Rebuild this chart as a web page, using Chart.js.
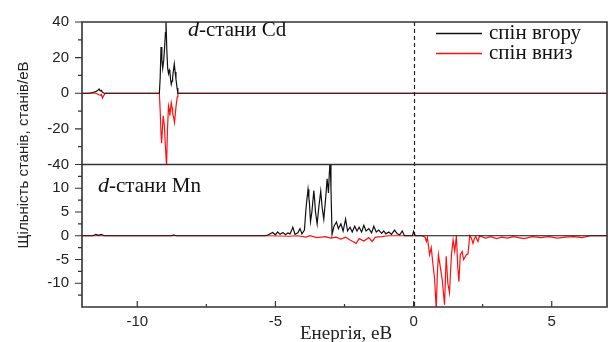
<!DOCTYPE html>
<html><head><meta charset="utf-8">
<script src="https://cdn.jsdelivr.net/npm/chart.js@4.4.1/dist/chart.umd.min.js"></script>
<style>html,body{margin:0;padding:0;background:#fff;}#wrap{width:609px;height:342px;position:relative;}</style>
</head><body><div id="wrap"><canvas id="c" width="609" height="342"></canvas></div>
<script>
// ---- data: [energy (eV), DOS (states/eV)] ----
const CD_UP = [[-12,0],[-11.75,0],[-11.62,0.4],[-11.5,0.9],[-11.44,1.5],[-11.38,2.4],[-11.34,1.3],[-11.3,1.6],[-11.26,0.5],[-11.2,0],
[-9.2,0],[-9.17,9],[-9.14,26],[-9.11,19],[-9.08,14],[-9.04,19],[-9.01,26],[-8.98,34],[-8.96,41],[-8.93,24],[-8.9,14],[-8.87,11],[-8.84,13],[-8.82,12],[-8.79,7],[-8.77,5],[-8.74,7],[-8.72,9],[-8.69,13],[-8.66,16.5],[-8.63,12],[-8.6,8],[-8.56,3],[-8.53,0],[7,0]];
const CD_DOWN = [[-12,0],[-11.5,0],[-11.42,-0.6],[-11.34,-1.2],[-11.3,-0.6],[-11.26,-2.6],[-11.22,-1.5],[-11.16,0],
[-9.2,0],[-9.17,-10],[-9.14,-23],[-9.12,-28],[-9.09,-20],[-9.06,-12.6],[-9.02,-18],[-8.98,-30],[-8.94,-41],[-8.91,-22],[-8.87,-7],[-8.84,-9],[-8.82,-12.6],[-8.79,-8],[-8.77,-5.3],[-8.74,-8],[-8.72,-11],[-8.68,-14],[-8.65,-16.5],[-8.62,-11],[-8.58,-5],[-8.55,-2],[-8.53,0],[7,0]];
const MN_UP = [[-12,0],[-11.6,0],[-11.5,0.3],[-11.4,0.1],[-11.3,0.3],[-11.2,0],[-8.75,0],[-8.68,0.2],[-8.6,0],
[-5.34,0],[-5.22,0.3],[-5.1,0.7],[-5.0,0.2],[-4.92,0.8],[-4.83,0.3],[-4.73,0.7],[-4.64,0.2],[-4.55,0.6],[-4.47,0.4],[-4.41,1.2],[-4.37,1.8],[-4.29,0.3],[-4.19,0.6],[-4.11,1.5],[-4.04,0.4],[-3.95,1.2],[-3.89,6],[-3.82,9.8],[-3.79,8],[-3.77,7],[-3.73,3],[-3.68,5],[-3.61,9.5],[-3.58,7.5],[-3.55,5],[-3.49,2.5],[-3.43,6],[-3.36,9.4],[-3.31,6],[-3.25,3.5],[-3.18,8],[-3.13,12],[-3.08,9],[-3.05,13],[-3.02,16],[-2.99,10],[-2.95,0.3],[-2.88,2],[-2.79,2.9],[-2.72,1.5],[-2.63,2.5],[-2.55,1],[-2.46,3.5],[-2.39,1],[-2.3,1.8],[-2.22,0.8],[-2.13,2],[-2.05,1],[-1.97,1.8],[-1.88,0.8],[-1.8,2.2],[-1.72,1],[-1.62,1.5],[-1.52,0.6],[-1.44,2],[-1.35,0.8],[-1.26,1.2],[-1.16,0.5],[-1.08,1],[-1.0,0.4],[-0.9,0.8],[-0.8,0.3],[-0.69,1.2],[-0.59,0.4],[-0.5,0.2],[-0.41,1],[-0.33,0],[-0.04,0],[0.0,0.9],[0.06,0],[7,0]];
const MN_DOWN = [[-12,0],[-5.3,0],[-4.5,-0.1],[-4.2,0],[-3.9,-0.3],[-3.75,0],[-3.5,-0.4],[-3.2,-0.2],[-3.0,-0.5],[-2.8,-0.3],[-2.63,-0.7],[-2.46,-0.3],[-2.3,-0.9],[-2.2,-1.2],[-2.08,-1.6],[-1.97,-0.6],[-1.8,-1.1],[-1.62,-0.4],[-1.5,-1.2],[-1.38,-0.3],[-1.15,-0.2],[-0.9,0],[0.3,0],[0.42,-0.3],[0.46,-1.2],[0.5,-0.4],[0.58,-4],[0.64,-2.5],[0.7,-6],[0.76,-9],[0.82,-15.5],[0.86,-8],[0.9,-4],[0.97,-6.7],[1.04,-9.4],[1.08,-12],[1.12,-14.5],[1.18,-4.3],[1.24,-10],[1.3,-12],[1.37,-4],[1.43,-0.9],[1.49,-3.3],[1.55,0],[1.6,-6.7],[1.64,-9.7],[1.69,-4],[1.76,-3.3],[1.81,-5],[1.86,-4.5],[1.91,-4],[1.97,-3.8],[2.03,0],[2.09,-0.5],[2.15,-1.6],[2.2,-0.6],[2.25,-0.2],[2.33,-1.2],[2.39,0],[2.6,-0.5],[2.8,-0.2],[3.0,-0.6],[3.2,-0.3],[3.4,-0.5],[3.6,-0.2],[3.8,-0.4],[4.0,-0.6],[4.3,-0.2],[4.6,-0.4],[4.9,-0.2],[5.2,-0.5],[5.5,-0.3],[5.8,-0.2],[6.1,-0.4],[6.4,0],[7,0]];

const X_TICKS = [-10,-5,0,5];
const X_MINOR = [-7.5,-2.5,2.5];
const TOP_TICKS = [-40,-20,0,20,40];
const TOP_MINOR = [-30,-10,10,30];
const BOT_TICKS = [-10,-5,0,5,10];
const BOT_MINOR = [-12.5,-7.5,-2.5,2.5,7.5,12.5];
const SERIES_NAMES = ['спін вгору','спін вниз'];
const PANEL_LABELS = ['-стани Cd','-стани Mn'];
const X_TITLE = 'Енергія, еВ';
const Y_TITLE = 'Щільність станів, станів/еВ';

const toXY = a => a.map(p => ({x:p[0], y:p[1]}));
const BLACK = '#111', RED = '#ff1010', FRAME = '#333';
const tickFont = {family:'Liberation Sans, Arial, sans-serif', size:15};

function ds(label, data, color, axis){
  return {label, data: toXY(data), borderColor: color, borderWidth: 1.2, pointRadius: 0, tension: 0, yAxisID: axis, fill:false};
}

const overlay = {
  id: 'overlay',
  beforeDatasetsDraw(chart){
    const ctx = chart.ctx, x = chart.scales.x, a = chart.chartArea;
    ctx.save();
    ctx.strokeStyle = '#222'; ctx.lineWidth = 1.2; ctx.setLineDash([4,3]);
    const px = Math.round(x.getPixelForValue(0)) + 0.5;
    ctx.beginPath(); ctx.moveTo(px, a.top); ctx.lineTo(px, a.bottom); ctx.stroke();
    ctx.restore();
  },
  afterDraw(chart){
    const ctx = chart.ctx, x = chart.scales.x, yt = chart.scales.yTop, yb = chart.scales.yBot, a = chart.chartArea;
    ctx.save();
    ctx.strokeStyle = FRAME; ctx.lineWidth = 1.6;
    ctx.beginPath();
    ctx.rect(a.left, a.top, a.right - a.left, a.bottom - a.top);
    ctx.moveTo(a.left, yt.bottom); ctx.lineTo(a.right, yt.bottom);
    ctx.stroke();
    ctx.lineWidth = 1.2;
    ctx.beginPath();
    const ytick = (s, vals, len) => vals.forEach(v => { const p = s.getPixelForValue(v); ctx.moveTo(a.left - len, p); ctx.lineTo(a.left, p); });
    ytick(yt, TOP_TICKS, 7); ytick(yt, TOP_MINOR, 4);
    ytick(yb, BOT_TICKS, 7); ytick(yb, BOT_MINOR, 4);
    X_TICKS.forEach(v => { const p = x.getPixelForValue(v); ctx.moveTo(p, a.bottom); ctx.lineTo(p, a.bottom - 6); });
    X_MINOR.forEach(v => { const p = x.getPixelForValue(v); ctx.moveTo(p, a.bottom); ctx.lineTo(p, a.bottom - 3); });
    ctx.stroke();

    // legend
    const lx = 436, lw = 46;
    [[BLACK, 33],[RED, 53]].forEach((c, i) => {
      ctx.strokeStyle = c[0]; ctx.lineWidth = 1.3;
      ctx.beginPath(); ctx.moveTo(lx, c[1] + 0.5); ctx.lineTo(lx + lw, c[1] + 0.5); ctx.stroke();
      ctx.fillStyle = '#111'; ctx.font = '21px "Liberation Serif", serif';
      ctx.textBaseline = 'alphabetic'; ctx.textAlign = 'left';
      ctx.fillText(SERIES_NAMES[i], lx + 53, c[1] + 6);
    });

    // panel labels
    const label = (txt, px, py) => {
      ctx.fillStyle = '#111'; ctx.textAlign = 'left'; ctx.textBaseline = 'alphabetic';
      ctx.font = 'italic 22px "Liberation Serif", serif';
      ctx.fillText('d', px, py);
      const w = ctx.measureText('d').width;
      ctx.font = '21px "Liberation Serif", serif';
      ctx.fillText(txt, px + w, py);
    };
    label(PANEL_LABELS[0], 188, 36);
    label(PANEL_LABELS[1], 98, 192);

    // axis titles
    ctx.fillStyle = '#222';
    ctx.font = '19px "Liberation Serif", serif'; ctx.textAlign = 'center'; ctx.textBaseline = 'alphabetic';
    ctx.fillText(X_TITLE, 346, 339);
    ctx.translate(28, 155); ctx.rotate(-Math.PI/2);
    ctx.font = '15px "Liberation Sans", Arial, sans-serif';
    ctx.fillText(Y_TITLE, 0, 0);
    ctx.restore();
  }
};

new Chart(document.getElementById('c'), {
  type: 'line',
  data: { datasets: [
    ds('Cd up', CD_UP, BLACK, 'yTop'),
    ds('Cd down', CD_DOWN, RED, 'yTop'),
    ds('Mn up', MN_UP, BLACK, 'yBot'),
    ds('Mn down', MN_DOWN, RED, 'yBot')
  ]},
  options: {
    responsive: false, animation: false, devicePixelRatio: 1,
    layout: { padding: { top: 14, right: 2, left: 0, bottom: 0 } },
    plugins: { legend: {display:false}, tooltip: {enabled:false} },
    scales: {
      x: { type:'linear', position:'bottom', min:-12, max:7,
        grid:{display:false, drawTicks:false, tickLength:0}, border:{display:false},
        ticks:{font: tickFont, color:'#222', padding:6, autoSkip:false, maxRotation:0},
        afterBuildTicks: s => { s.ticks = X_TICKS.map(v => ({value:v})); },
        afterFit: s => { s.height = 35; } },
      yBot: { type:'linear', position:'left', stack:'panels', stackWeight:1, min:-15, max:15,
        grid:{display:false, drawTicks:false, tickLength:0}, border:{display:false},
        ticks:{font: tickFont, color:'#222', padding:13, autoSkip:false},
        afterBuildTicks: s => { s.ticks = BOT_TICKS.map(v => ({value:v})); },
        afterFit: s => { s.width = 82; } },
      yTop: { type:'linear', position:'left', stack:'panels', stackWeight:1, min:-40, max:40,
        grid:{display:false, drawTicks:false, tickLength:0}, border:{display:false},
        ticks:{font: tickFont, color:'#222', padding:13, autoSkip:false},
        afterBuildTicks: s => { s.ticks = TOP_TICKS.map(v => ({value:v})); },
        afterFit: s => { s.width = 82; } }
    }
  },
  plugins: [overlay]
});
</script></body></html>
